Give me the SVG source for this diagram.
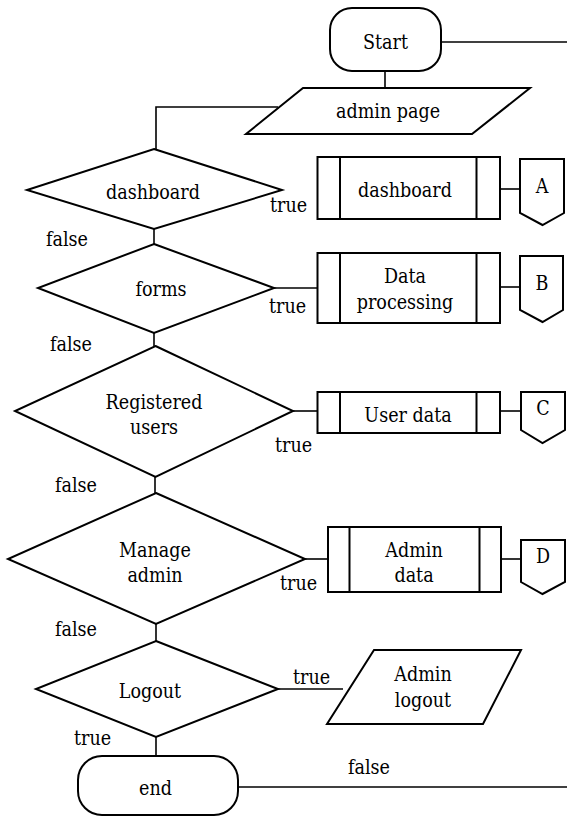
<svg xmlns="http://www.w3.org/2000/svg" width="567" height="817" viewBox="0 0 567 817">
  <style>
    .shape { fill: #ffffff; stroke: #000000; stroke-width: 2; stroke-linejoin: miter; }
    .bar { fill: none; stroke: #000000; stroke-width: 2; }
    .wire { fill: none; stroke: #000000; stroke-width: 1.6; }
    text { font-family: "DejaVu Serif", serif; font-stretch: condensed; font-size: 19.5px; fill: #000000; }
    .c { text-anchor: middle; }
  </style>
  <rect width="567" height="817" fill="#ffffff"/>

  <!-- connectors -->
  <g id="connectors">
    <path class="wire" d="M441 42 H567"/>
    <path class="wire" d="M385 71 V88"/>
    <path class="wire" d="M278 107 H156 V149"/>
    <path class="wire" d="M500 189 H520"/>
    <path class="wire" d="M154 229 V244"/>
    <path class="wire" d="M274 288 H317.5"/>
    <path class="wire" d="M500 287 H520"/>
    <path class="wire" d="M154 333 V346"/>
    <path class="wire" d="M293 411 H317.5"/>
    <path class="wire" d="M500 411 H521"/>
    <path class="wire" d="M155 477 V493"/>
    <path class="wire" d="M305 559 H328"/>
    <path class="wire" d="M501 559 H521"/>
    <path class="wire" d="M156 624 V641"/>
    <path class="wire" d="M278 689 H343"/>
    <path class="wire" d="M156 737 V756"/>
    <path class="wire" d="M238 787 H567"/>
    <!-- branch labels -->
    <text x="46" y="246">false</text>
    <text x="270" y="212">true</text>
    <text x="50" y="351">false</text>
    <text x="269" y="313">true</text>
    <text x="55" y="492">false</text>
    <text x="275" y="452">true</text>
    <text x="55" y="636">false</text>
    <text x="280" y="590">true</text>
    <text x="293" y="684">true</text>
    <text x="74" y="745">true</text>
    <text x="348" y="774">false</text>
  </g>

  <g id="start">
    <rect class="shape" x="330" y="8" width="111" height="63" rx="22" ry="22"/>
    <text class="c" x="385.5" y="49">Start</text>
  </g>

  <g id="admin-page">
    <polygon class="shape" points="303,88 530,88 472,134 246,134"/>
    <text class="c" x="388" y="118">admin page</text>
  </g>

  <g id="dec-dashboard">
    <polygon class="shape" points="154,149 282,190 154,229 27,190"/>
    <text class="c" x="153" y="199">dashboard</text>
  </g>
  <g id="proc-dashboard">
    <rect class="shape" x="317.5" y="157" width="182.5" height="62"/>
    <path class="bar" d="M340 157 V219 M476.5 157 V219"/>
    <text class="c" x="405" y="197">dashboard</text>
  </g>
  <g id="conn-a">
    <polygon class="shape" points="520,159 564,159 564,213 542.5,225 520,213"/>
    <text class="c" x="542" y="193">A</text>
  </g>

  <g id="dec-forms">
    <polygon class="shape" points="154,244 274,288 154,333 38,288"/>
    <text class="c" x="161" y="296">forms</text>
  </g>
  <g id="proc-data">
    <rect class="shape" x="317.5" y="253" width="182.5" height="70"/>
    <path class="bar" d="M340 253 V323 M476.5 253 V323"/>
    <text class="c" x="405" y="283">Data</text>
    <text class="c" x="405" y="309">processing</text>
  </g>
  <g id="conn-b">
    <polygon class="shape" points="520,256 563,256 563,310 542.5,322 520,310"/>
    <text class="c" x="542" y="290">B</text>
  </g>

  <g id="dec-registered">
    <polygon class="shape" points="155.5,346 293,411 155.5,477 15,411"/>
    <text class="c" x="154" y="409">Registered</text>
    <text class="c" x="154" y="434">users</text>
  </g>
  <g id="proc-user">
    <rect class="shape" x="317.5" y="392" width="182.5" height="41"/>
    <path class="bar" d="M340 392 V433 M476.5 392 V433"/>
    <text class="c" x="408" y="422">User data</text>
  </g>
  <g id="conn-c">
    <polygon class="shape" points="521,392 565,392 565,430 542.5,443 521,430"/>
    <text class="c" x="543" y="415">C</text>
  </g>

  <g id="dec-manage">
    <polygon class="shape" points="156,493 305,559 156,624 8,559"/>
    <text class="c" x="155" y="557">Manage</text>
    <text class="c" x="155" y="582">admin</text>
  </g>
  <g id="proc-admin">
    <rect class="shape" x="328" y="527" width="173" height="65"/>
    <path class="bar" d="M349.5 527 V592 M479.5 527 V592"/>
    <text class="c" x="414" y="557">Admin</text>
    <text class="c" x="414" y="582">data</text>
  </g>
  <g id="conn-d">
    <polygon class="shape" points="521,540 565,540 565,582 542.5,594 521,582"/>
    <text class="c" x="543" y="563">D</text>
  </g>

  <g id="dec-logout">
    <polygon class="shape" points="156,641 278,689 156,737 36,689"/>
    <text class="c" x="150" y="698">Logout</text>
  </g>
  <g id="admin-logout">
    <polygon class="shape" points="374,650 521,650 483,724 327,724"/>
    <text class="c" x="423" y="681">Admin</text>
    <text class="c" x="423" y="707">logout</text>
  </g>

  <g id="end">
    <rect class="shape" x="78" y="756" width="160" height="59" rx="24" ry="24"/>
    <text class="c" x="155.5" y="795">end</text>
  </g>
</svg>
